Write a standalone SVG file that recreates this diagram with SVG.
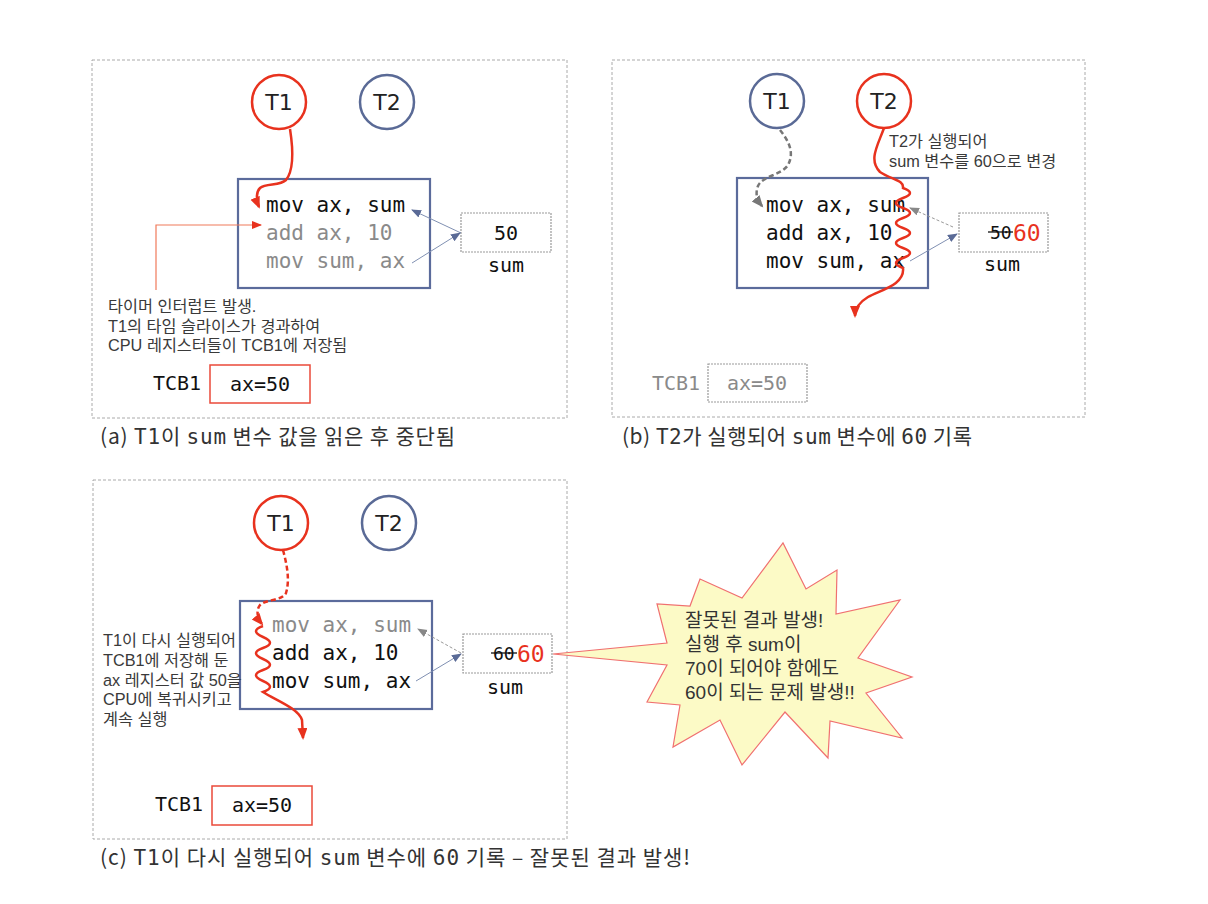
<svg xmlns="http://www.w3.org/2000/svg" width="1208" height="904" viewBox="0 0 1208 904">
<style>
.panel{fill:#fff;stroke:#aaa;stroke-width:1;stroke-dasharray:3 2}
.cr{fill:#fff;stroke:#e8321e;stroke-width:2.5}
.cb{fill:#fff;stroke:#5a6a96;stroke-width:2.5}
.cl{font-family:"DejaVu Sans",sans-serif;font-size:22px;fill:#222;text-anchor:middle}
.code{fill:none;stroke:#5b6b9b;stroke-width:2.2}
.mono{font-family:"DejaVu Sans Mono","Liberation Mono",monospace;font-size:21px}
.blk{fill:#111}
.gry{fill:#8a8a8a}
.sbox{fill:#fff;stroke:#999;stroke-width:1.2;stroke-dasharray:2 1}
.mid{text-anchor:middle}
.ko{font-family:"Liberation Sans","Noto Sans CJK KR",sans-serif;font-size:16.3px;fill:#3a3a3a}
.bt{font-family:"Liberation Sans","Noto Sans CJK KR",sans-serif;font-size:19px;fill:#333}
.cap{font-family:"Noto Sans CJK KR","Noto Sans",sans-serif;font-size:21px;fill:#333}
.capm{font-family:"DejaVu Sans Mono",monospace}
.tcbr{fill:#fff;stroke:#ea4a3a;stroke-width:1.5}
.tcbg{fill:#fff;stroke:#999;stroke-width:1.2;stroke-dasharray:2 1}
.rp{fill:none;stroke:#e8321e;stroke-width:2.5;marker-end:url(#ar)}
.rpd{fill:none;stroke:#e8321e;stroke-width:2.5;stroke-dasharray:5 3;marker-end:url(#ar)}
.gpd{fill:none;stroke:#777;stroke-width:2.5;stroke-dasharray:5 3;marker-end:url(#ag)}
.bl{fill:none;stroke:#8090b2;stroke-width:1;marker-end:url(#ab)}
.bld{fill:none;stroke:#999;stroke-width:1;stroke-dasharray:3 2;marker-end:url(#ag2)}
.ol{fill:none;stroke:#f07a5a;stroke-width:1.2;marker-end:url(#ao)}
</style>
<defs>
<marker id="ar" markerUnits="userSpaceOnUse" markerWidth="14" markerHeight="12" refX="10" refY="5" orient="auto"><path d="M0,0 L12,5 L0,10 z" fill="#e8321e"/></marker>
<marker id="ag" markerUnits="userSpaceOnUse" markerWidth="14" markerHeight="12" refX="10" refY="5" orient="auto"><path d="M0,0 L12,5 L0,10 z" fill="#777"/></marker>
<marker id="ag2" markerUnits="userSpaceOnUse" markerWidth="12" markerHeight="10" refX="9" refY="4" orient="auto"><path d="M0,0 L10,4 L0,8 z" fill="#888"/></marker>
<marker id="ab" markerUnits="userSpaceOnUse" markerWidth="12" markerHeight="10" refX="9" refY="4" orient="auto"><path d="M0,0 L10,4 L0,8 z" fill="#5a6a96"/></marker>
<marker id="ao" markerUnits="userSpaceOnUse" markerWidth="12" markerHeight="10" refX="9" refY="4" orient="auto"><path d="M0,0 L10,4 L0,8 z" fill="#e8321e"/></marker>
</defs>
<rect width="1208" height="904" fill="#fff"/>

<!-- Panel A -->
<g id="panelA">
<rect class="panel" x="92" y="60" width="475" height="358"/>
<g id="a_T1"><circle class="cr" cx="279" cy="102" r="27"/><text class="cl" x="279" y="110">T1</text></g>
<g id="a_T2"><circle class="cb" cx="387" cy="102" r="27"/><text class="cl" x="387" y="110">T2</text></g>
<g id="a_code"><rect class="code" x="238" y="179" width="192" height="109"/>
<text class="mono blk" x="266" y="212">mov ax, sum</text>
<text class="mono gry" x="266" y="240">add ax, 10</text>
<text class="mono gry" x="266" y="268">mov sum, ax</text></g>
<g id="a_sum"><rect class="sbox" x="461" y="213" width="90" height="39"/>
<text class="mono blk mid" x="506" y="240" style="font-size:20px">50</text>
<text class="mono blk mid" x="506" y="272" style="font-size:20px">sum</text></g>
<g id="a_note"><text class="ko" x="108" y="312">타이머 인터럽트 발생.</text>
<text class="ko" x="108" y="332">T1의 타임 슬라이스가 경과하여</text>
<text class="ko" x="108" y="351">CPU 레지스터들이 TCB1에 저장됨</text></g>
<g id="a_tcb"><text class="mono blk" x="153" y="390" style="font-size:20px">TCB1</text>
<rect class="tcbr" x="210" y="365" width="100" height="38"/>
<text class="mono blk mid" x="260" y="391" style="font-size:20px">ax=50</text></g>
</g>

<!-- Panel B -->
<g id="panelB">
<rect class="panel" x="612" y="60" width="473" height="357"/>
<g id="b_T1"><circle class="cb" cx="777" cy="101" r="27"/><text class="cl" x="777" y="109">T1</text></g>
<g id="b_T2"><circle class="cr" cx="884" cy="101" r="27"/><text class="cl" x="884" y="109">T2</text></g>
<g id="b_note"><text class="ko" x="889" y="147">T2가 실행되어</text>
<text class="ko" x="889" y="167">sum 변수를 60으로 변경</text></g>
<g id="b_code"><rect class="code" x="737" y="178" width="191" height="110"/>
<text class="mono blk" x="766" y="212">mov ax, sum</text>
<text class="mono blk" x="766" y="240">add ax, 10</text>
<text class="mono blk" x="766" y="268">mov sum, ax</text></g>
<g id="b_sum"><rect class="sbox" x="959" y="213" width="89" height="39"/>
<text class="mono blk" x="990" y="239" style="font-size:18px">50</text>
<line x1="988" y1="232" x2="1013" y2="232" stroke="#111" stroke-width="1.3"/>
<text class="mono" x="1013" y="241" style="font-size:23px;fill:#e8321e">60</text>
<text class="mono blk mid" x="1002" y="271" style="font-size:20px">sum</text></g>
<g id="b_tcb"><text class="mono gry" x="652" y="390" style="font-size:20px">TCB1</text>
<rect class="tcbg" x="708" y="364" width="99" height="38"/>
<text class="mono gry mid" x="757" y="390" style="font-size:20px">ax=50</text></g>
</g>

<!-- Panel C -->
<g id="panelC">
<rect class="panel" x="93" y="480" width="474" height="359"/>
<g id="c_T1"><circle class="cr" cx="281" cy="523" r="27"/><text class="cl" x="281" y="531">T1</text></g>
<g id="c_T2"><circle class="cb" cx="389" cy="523" r="27"/><text class="cl" x="389" y="531">T2</text></g>
<g id="c_code"><rect class="code" x="240" y="601" width="192" height="108"/>
<text class="mono gry" x="272" y="632">mov ax, sum</text>
<text class="mono blk" x="272" y="660">add ax, 10</text>
<text class="mono blk" x="272" y="688">mov sum, ax</text></g>
<g id="c_sum"><rect class="sbox" x="463" y="634" width="89" height="39"/>
<text class="mono blk" x="493" y="660" style="font-size:18px">60</text>
<line x1="491" y1="653" x2="517" y2="653" stroke="#111" stroke-width="1.3"/>
<text class="mono" x="517" y="662" style="font-size:23px;fill:#e8321e">60</text>
<text class="mono blk mid" x="505" y="694" style="font-size:20px">sum</text></g>
<g id="c_note"><text class="ko" x="103" y="646">T1이 다시 실행되어</text>
<text class="ko" x="103" y="666">TCB1에 저장해 둔</text>
<text class="ko" x="103" y="686">ax 레지스터 값 50을</text>
<text class="ko" x="103" y="705">CPU에 복귀시키고</text>
<text class="ko" x="103" y="725">계속 실행</text></g>
<g id="c_tcb"><text class="mono blk" x="155" y="811" style="font-size:20px">TCB1</text>
<rect class="tcbr" x="212" y="786" width="100" height="39"/>
<text class="mono blk mid" x="262" y="812" style="font-size:20px">ax=50</text></g>
</g>

<!-- Burst -->
<g id="burst">
<polygon points="553,654 667,643 657,604 690,606 700,579 742,598 783,543 806,589 837,570 836,614 900,600 858,658 912,677 866,693 902,738 830,721 828,758 785,712 742,765 720,720 673,747 680,705 647,702 667,665" fill="#fcfac6" stroke="#f07070" stroke-width="1.2" stroke-linejoin="miter"/>
<text class="bt" x="685" y="627">잘못된 결과 발생!</text>
<text class="bt" x="685" y="651">실행 후 sum이</text>
<text class="bt" x="685" y="675">70이 되어야 함에도</text>
<text class="bt" x="685" y="699">60이 되는 문제 발생!!</text>
</g>

<!-- Captions -->
<g id="captions">
<text class="cap" x="100" y="444" textLength="355">(a) <tspan class="capm">T1</tspan>이 <tspan class="capm">sum</tspan> 변수 값을 읽은 후 중단됨</text>
<text class="cap" x="622" y="444" textLength="350">(b) <tspan class="capm">T2</tspan>가 실행되어 <tspan class="capm">sum</tspan> 변수에 <tspan class="capm">60</tspan> 기록</text>
<text class="cap" x="100" y="865" textLength="590">(c) <tspan class="capm">T1</tspan>이 다시 실행되어 <tspan class="capm">sum</tspan> 변수에 <tspan class="capm">60</tspan> 기록 – 잘못된 결과 발생!</text>
</g>

<!-- Connectors -->
<g id="connectors">
<path class="rp" d="M290,129 C293,148 294,170 286,180 C280,186 266,183 260,188 C256,192 256,200 259,207"/>
<path class="ol" d="M156,290 L156,225 L261,225"/>
<path class="bl" d="M461,233 L412,210"/>
<path class="bl" d="M412,263 L460,233"/>

<path class="gpd" d="M780,130 C788,140 795,152 788,165 C782,175 762,176 758,186 C755,194 757,200 762,206"/>
<path class="rp" d="M884,128 C878,145 868,160 880,172 C892,180 904,180 903,188 q14,5 0,10 t0,10 t0,10 t0,10 t0,10 t0,10 t0,10 t0,10 C905,285 880,290 868,297 C858,303 855,310 855,316"/>
<path class="bld" d="M953,227 L910,208"/>
<path class="bl" d="M910,261 L957,234"/>

<path class="rpd" d="M283,550 C287,565 290,580 286,593 C282,601 266,599 260,605 C256,610 257,618 262,624"/>
<path class="rp" d="M263,626 q-14,5 0,11 t0,11 t0,11 t0,11 t0,11 t0,11 C275,700 298,708 302,720 L303,738"/>
<path class="bld" d="M461,653 L418,629"/>
<path class="bl" d="M416,681 L461,654"/>
</g>
</svg>
